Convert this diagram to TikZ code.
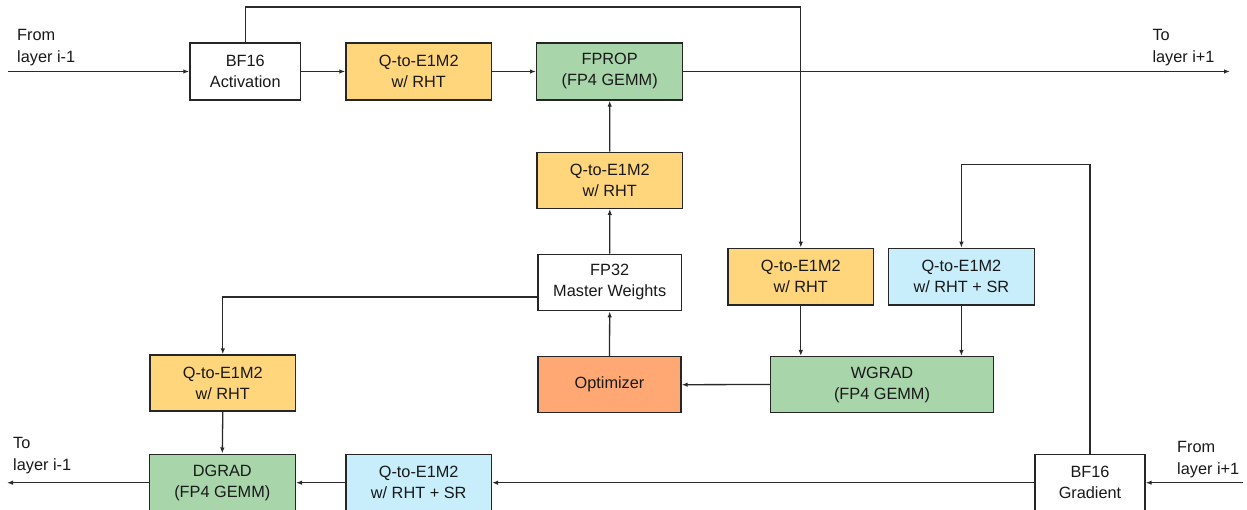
\documentclass[tikz,border=0pt]{standalone}
\usepackage{fontspec}
\setmainfont{Liberation Sans}
\usetikzlibrary{arrows.meta}
\definecolor{qorange}{HTML}{FFD67B}
\definecolor{ggreen}{HTML}{A8D5AA}
\definecolor{qblue}{HTML}{C8EEFB}
\definecolor{optor}{HTML}{FFA874}
\definecolor{edge}{HTML}{262626}
\definecolor{wire}{HTML}{2A2A2A}
\tikzset{
  blk/.style={draw=edge, line width=1.4pt, align=center, inner sep=0pt,
    font=\fontsize{16.3}{21}\selectfont, text=black!90},
  conn/.style={draw=wire, line width=1.3pt, -{Latex[length=6pt,width=4.5pt]}},
  thick conn/.style={conn, line width=1.9pt},
  lbl/.style={align=left, inner sep=0pt, anchor=north west,
    font=\fontsize{16.3}{22}\selectfont, text=black!90},
}
\begin{document}
\begin{tikzpicture}[x=1pt,y=-1pt]
\useasboundingbox (0,0) rectangle (1247,510);
% top row
\node[blk, fill=white, minimum width=110.5pt, minimum height=57pt] (act) at (245.25,71.5) {BF16\\Activation};
\node[blk, fill=qorange, minimum width=145.5pt, minimum height=57pt] (q1) at (418.75,71.5) {Q-to-E1M2\\w/ RHT};
\node[blk, fill=ggreen, minimum width=146pt, minimum height=57pt] (fprop) at (609.7,71.5) {FPROP\\(FP4 GEMM)};
% middle column
\node[blk, fill=qorange, minimum width=145.5pt, minimum height=56pt] (q2) at (609.8,180.3) {Q-to-E1M2\\w/ RHT};
\node[blk, fill=white, minimum width=143.5pt, minimum height=56.5pt] (fp32) at (609.7,282.5) {FP32\\Master Weights};
\node[blk, fill=optor, minimum width=143pt, minimum height=56pt] (opt) at (609.5,384.7) {Optimizer};
% right part
\node[blk, fill=qorange, minimum width=145.6pt, minimum height=56.7pt] (q3) at (800.8,276.7) {Q-to-E1M2\\w/ RHT};
\node[blk, fill=qblue, minimum width=146.4pt, minimum height=56.7pt] (q4) at (961.4,276.7) {Q-to-E1M2\\w/ RHT + SR};
\node[blk, fill=ggreen, minimum width=222.6pt, minimum height=55.6pt] (wgrad) at (882,384.5) {WGRAD\\(FP4 GEMM)};
% bottom left
\node[blk, fill=qorange, minimum width=145.7pt, minimum height=56pt] (q5) at (222.8,383) {Q-to-E1M2\\w/ RHT};
\node[blk, fill=ggreen, minimum width=146pt, minimum height=57pt] (dgrad) at (222.3,482.7) {DGRAD\\(FP4 GEMM)};
\node[blk, fill=qblue, minimum width=145.3pt, minimum height=57pt] (q6) at (418.7,482.7) {Q-to-E1M2\\w/ RHT + SR};
\node[blk, fill=white, minimum width=110pt, minimum height=57pt] (grad) at (1090,482.7) {BF16\\Gradient};
% labels
\node[lbl] (lfrom1) at (17,29) {From\\layer i-1};
\node[lbl] (lto1) at (1152.3,29) {To\\layer i+1};
\node[lbl] (lto2) at (13,437.5) {To\\layer i-1};
\node[lbl] (lfrom2) at (1177,441.5) {From\\layer i+1};
% free ends
\coordinate (inA) at (8,71.5);
\coordinate (outA) at (1230,71.5);
\coordinate (outB) at (7,482.7);
\coordinate (inB) at (1243,482.7);
% connectors
\draw[thick conn] (inA) -- (act.west);
\draw[conn] (act.east) -- (q1.west);
\draw[thick conn] (q1.east) -- (fprop.west);
\draw[conn] (fprop.east) -- (outA);
\draw[conn] (act.north) -- ++(0,-35.3) -| (q3.north);
\draw[conn] (fp32.north) -- (q2.south);
\draw[conn] (q2.north) -- (fprop.south);
\draw[conn] (opt.north) -- (fp32.south);
\draw[conn] (wgrad.west) -- (opt.east);
\draw[conn] (fp32.west |- 0,297) -| (q5.north);
\draw[conn] (q5.south) -- (dgrad.north);
\draw[conn] (q3.south) -- (q3.south |- wgrad.north);
\draw[conn] (q4.south) -- (q4.south |- wgrad.north);
\draw[conn] (grad.north) -- (1090,164.7) -| (q4.north);
\draw[conn] (grad.west) -- (q6.east);
\draw[conn] (q6.west) -- (dgrad.east);
\draw[conn] (dgrad.west) -- (outB);
\draw[conn] (inB) -- (grad.east);
\end{tikzpicture}
\end{document}
